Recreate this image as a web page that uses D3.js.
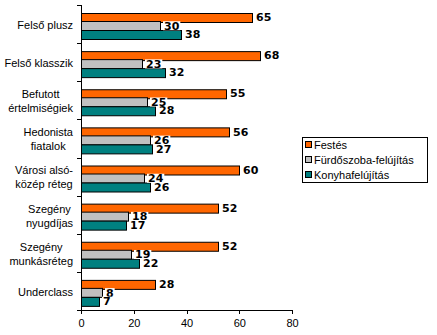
<!DOCTYPE html>
<html>
<head>
<meta charset="utf-8">
<script src="https://cdn.jsdelivr.net/npm/d3@7"></script>
<style>
  html, body { margin: 0; padding: 0; background: #fff; }
  svg { display: block; }
</style>
</head>
<body>
<svg id="chart" width="437" height="335"></svg>
<script>
// Segment labels (each entry is the list of lines shown on the axis)
const categories = [
  ["Felső plusz"],
  ["Felső klasszik"],
  ["Befutott", "értelmiségiek"],
  ["Hedonista", "fiatalok"],
  ["Városi alsó-", "közép réteg"],
  ["Szegény", "nyugdíjas"],
  ["Szegény", "munkásréteg"],
  ["Underclass"]
];
const seriesNames = ["Festés", "Fürdőszoba-felújítás", "Konyhafelújítás"];
const festes       = [65, 68, 55, 56, 60, 52, 52, 28];
const furdoszoba   = [30, 23, 25, 26, 24, 18, 19, 8];
const konyha       = [38, 32, 28, 27, 26, 17, 22, 7];
const seriesColors = ["#FF6600", "#C0C0C0", "#008080"];
const xTicks = [0, 20, 40, 60, 80];

const seriesValues = [festes, furdoszoba, konyha];
const catKeys = categories.map(c => c.join(" "));
const rows = catKeys.map((k, i) => ({
  key: k,
  lines: categories[i],
  values: seriesNames.map((s, j) => ({ series: s, value: seriesValues[j][i], idx: j }))
}));

const svg = d3.select("#chart");
const FONT = "'Liberation Sans', Arial, sans-serif";
const BOLD = "'DejaVu Sans', Verdana, sans-serif";

const x = d3.scaleLinear().domain([0, 80]).range([81, 292]);
const y = d3.scaleBand().domain(catKeys).range([5, 310]);
const inner = d3.scaleBand().domain(seriesNames).range([7.5, 33]);

// bars
const groups = svg.append("g").selectAll("g").data(rows).join("g")
  .attr("transform", d => `translate(0,${y(d.key)})`);

groups.selectAll("rect.bar").data(d => d.values).join("rect")
  .attr("class", "bar")
  .attr("x", x(0) + 0.5)
  .attr("y", d => Math.round(inner(d.series)) + 0.5)
  .attr("width", d => Math.max(0, Math.round(x(d.value) - x(0))))
  .attr("height", Math.round(inner.bandwidth()))
  .attr("fill", d => seriesColors[d.idx])
  .attr("stroke", "#000")
  .attr("stroke-width", 1);

// value labels on small opaque backgrounds, drawn in series order so that
// each label sits on top of the one above it
const labels = groups.selectAll("g.lbl").data(d => d.values).join("g")
  .attr("class", "lbl")
  .attr("transform", d => `translate(${Math.round(x(d.value)) + 4},${inner(d.series) + inner.bandwidth() / 2 + 0.5})`);
const labelText = labels.append("text")
  .attr("dy", "0.36em")
  .attr("font-family", BOLD)
  .attr("font-weight", "bold")
  .attr("font-size", 11)
  .attr("fill", "#000")
  .text(d => d.value);
labels.each(function () {
  const g = d3.select(this);
  const w = g.select("text").node().getComputedTextLength();
  g.insert("rect", "text")
    .attr("x", -1).attr("y", -4.5).attr("width", w + 2).attr("height", 9)
    .attr("fill", "#fff");
});

// y axis: line with tick marks at the band boundaries
const yAxis = svg.append("g").attr("stroke", "#000").attr("shape-rendering", "crispEdges");
yAxis.append("line").attr("x1", 81.5).attr("x2", 81.5).attr("y1", y.range()[0]).attr("y2", y.range()[1] + 0.5);
const bounds = catKeys.map(k => y(k)).concat([y.range()[1]]);
yAxis.selectAll("line.tk").data(bounds).join("line").attr("class", "tk")
  .attr("x1", 77).attr("x2", 81.5)
  .attr("y1", d => Math.round(d) + 0.5).attr("y2", d => Math.round(d) + 0.5);

// category labels: each block centred on its widest line, right edge near the axis
const labelRight = 73;
const catLabels = svg.append("g").selectAll("text").data(rows).join("text")
  .attr("font-family", FONT)
  .attr("font-size", 11)
  .attr("fill", "#000")
  .attr("text-anchor", "middle");
catLabels.each(function (d) {
  const t = d3.select(this);
  const lh = 14;
  const cy = y(d.key) + y.bandwidth() / 2 + 1;
  const y0 = cy - (d.lines.length - 1) * lh / 2;
  d.lines.forEach((ln, i) => {
    t.append("tspan").attr("y", y0 + i * lh).attr("dy", "0.35em").text(ln);
  });
  let maxW = 0;
  t.selectAll("tspan").each(function () { maxW = Math.max(maxW, this.getComputedTextLength()); });
  t.selectAll("tspan").attr("x", labelRight - maxW / 2);
});

// x axis
const xAxis = svg.append("g")
  .attr("transform", "translate(0,310)")
  .call(d3.axisBottom(x).tickValues(xTicks).tickSize(4).tickSizeOuter(0).tickFormat(d3.format("d")));
xAxis.select(".domain").attr("stroke", "#000").attr("shape-rendering", "crispEdges");
xAxis.selectAll(".tick line").attr("stroke", "#000").attr("shape-rendering", "crispEdges");
xAxis.selectAll(".tick text")
  .attr("font-family", FONT).attr("font-size", 11).attr("fill", "#000").attr("dy", "0.95em");

// legend
const legend = svg.append("g");
legend.append("rect")
  .attr("x", 302.5).attr("y", 137.5).attr("width", 125).attr("height", 45)
  .attr("fill", "#fff").attr("stroke", "#000");
const items = legend.selectAll("g").data(seriesNames).join("g")
  .attr("transform", (d, i) => `translate(305,${145 + i * 15})`);
items.append("rect")
  .attr("x", 0.5).attr("y", -3.5).attr("width", 6).attr("height", 6)
  .attr("fill", (d, i) => seriesColors[i]).attr("stroke", "#000");
items.append("text")
  .attr("x", 9).attr("y", 0).attr("dy", "0.35em")
  .attr("font-family", FONT).attr("font-size", 11).attr("fill", "#000")
  .text(d => d);
</script>
</body>
</html>
